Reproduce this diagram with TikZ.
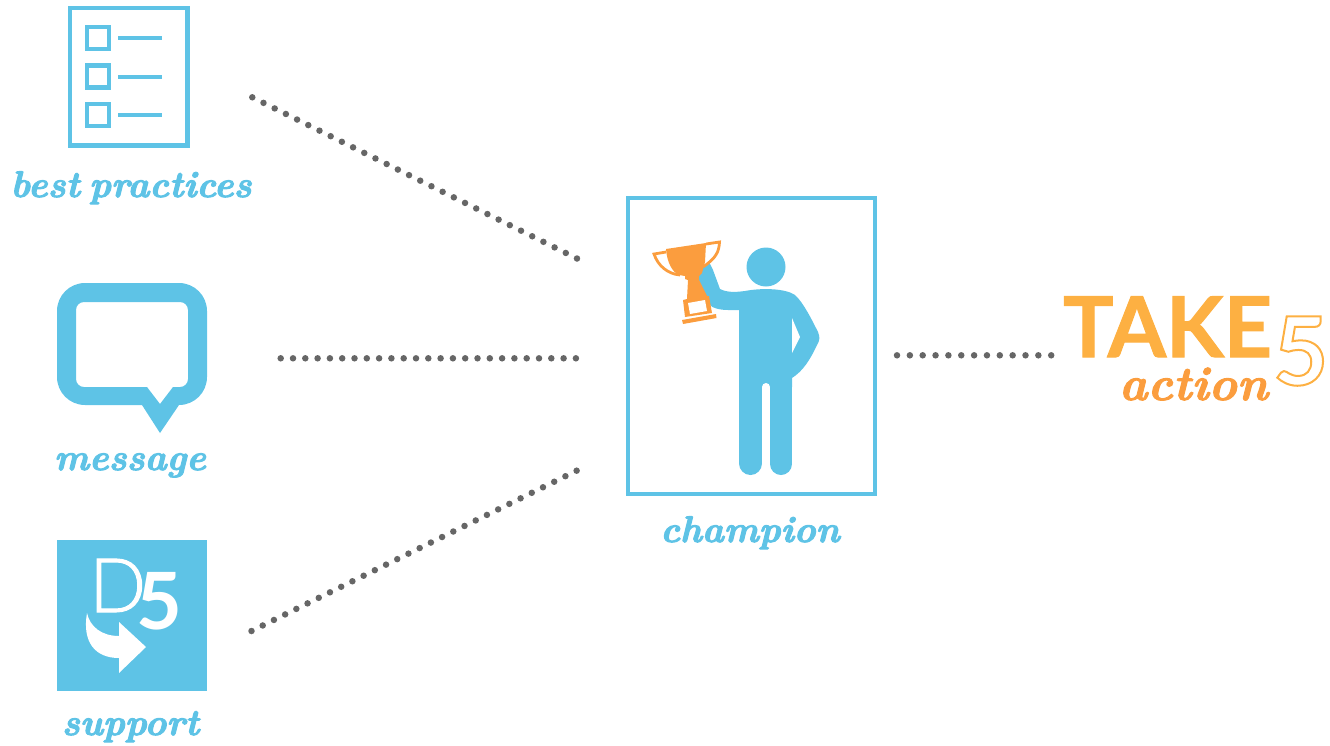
\documentclass[tikz,border=0pt]{standalone}
\usepackage{fontspec}
\newfontfamily\logofont{Lato}
\newfontfamily\logolight{Lato Light}
\definecolor{skyblue}{HTML}{5EC3E6}
\definecolor{cuporange}{HTML}{FB9D3E}
\definecolor{takeorange}{HTML}{FDB042}
\definecolor{dotgray}{HTML}{666666}
\newcommand{\outlinetext}[1]{\special{pdf:code 1 Tr 2 w}#1\special{pdf:code 0 Tr}}
\newcommand{\thickentext}[1]{\special{pdf:code 2 Tr 1 w}#1\special{pdf:code 0 Tr}}
\tikzset{
  dotline/.style={dotgray, line width=6.5pt, line cap=round, dash pattern=on 0pt off #1},
  lbl/.style={anchor=base, inner sep=0pt, text=skyblue, font=\fontsize{37}{37}\selectfont\bfseries\itshape},
  logotext/.style={anchor=base west, inner sep=0pt},
}

\begin{document}
\begin{tikzpicture}[x=1pt, y=-1pt]
  \useasboundingbox (0,0) rectangle (1330,745);

  % dotted connectors
  \coordinate (P1) at (252.3,97.3);
  \coordinate (P2) at (280.7,358.3);
  \coordinate (P3) at (251.5,631);
  \coordinate (C1) at (578,259);
  \coordinate (C2) at (576,358.3);
  \coordinate (C3) at (578,470);
  \coordinate (C4) at (897,355.3);
  \coordinate (T) at (1051.5,355.3);
  \draw[dotline=12.5pt] (P1)--(C1);
  \draw[dotline=12.3pt] (P2)--(C2);
  \draw[dotline=12.5pt] (P3)--(C3);
  \draw[dotline=12.85pt] (C4)--(T);

  % checklist
  \draw[skyblue, line width=4.5pt] (70,8) rectangle (187.5,145.5);
  \foreach \y in {38,76.5,115} {
    \draw[skyblue, line width=4.5pt] (87.2,\y-11) rectangle (109,\y+11);
    \draw[skyblue, line width=4pt] (118,\y)--(162,\y);
  }
  \node[lbl] (practices) at (131,197) {\thickentext{best\hspace{0.25em}practices}};

  % speech bubble
  \fill[skyblue, even odd rule]
    [rounded corners=28pt] (57,283) -- (207,283) -- (207,405)
    [sharp corners] -- (179,405) -- (160,433) -- (142,405)
    [rounded corners=28pt] -- (57,405) -- cycle
    [rounded corners=8pt] (76,302) -- (188,302) -- (188,387)
    [sharp corners] -- (173,387) -- (160,404) -- (147,387)
    [rounded corners=8pt] -- (76,387) -- cycle;
  \node[lbl] (message) at (130,470) {\thickentext{message}};

  % support logo
  \fill[skyblue] (57,540) rectangle (207,691);
  \node[logotext, text=white, font=\fontsize{75}{75}\selectfont] (logo) at (89,612)
    {\logolight\thickentext{D}\hspace{-10pt}\raisebox{-17pt}{\fontsize{79}{79}\selectfont\logofont\bfseries 5}};
  \fill[white] (87,613) .. controls (90,627) and (102,636) .. (119,636)
    -- (119,622) -- (146,647) -- (119,673) -- (119,658)
    .. controls (95,658) and (82,642) .. (87,613);
  \node[lbl] (support) at (130.5,735) {\thickentext{support}};

  % champion
  \draw[skyblue, line width=4.5pt] (628,198) rectangle (875,494);
  \fill[skyblue] (766,267) circle (19.5);
  \fill[skyblue] (707,258) -- (713,270) -- (720,289)
    .. controls (728,293) and (737,292) .. (745,291)
    .. controls (760,288) and (785,288) .. (795,295)
    .. controls (803,302) and (812,320) .. (818,332)
    .. controls (820,337) and (820,340) .. (817,345)
    .. controls (810,360) and (803,371) .. (792,378)
    -- (792,387) -- (739,387)
    -- (739,310) -- (728,310) .. controls (720,310) and (712,308) .. (710,305)
    -- (695,272) -- cycle;
  \fill[white] (792,318) -- (800,337) -- (792,353) -- cycle;
  \draw[skyblue, line width=23pt, line cap=round] (750.5,375)--(750.5,463.5);
  \draw[skyblue, line width=22pt, line cap=round] (781,375)--(781,464);
  \fill[white] (766,387) circle (4);
  \node[lbl] (champ) at (750,542) {\thickentext{champion}};

  % trophy
  \draw[cuporange, line width=2.8pt, fill=white] (666,252) -- (654,254)
    .. controls (658,266) and (668,274) .. (680,275);
  \draw[cuporange, line width=2.8pt, fill=white] (706,244) -- (719.5,242)
    .. controls (719,252) and (716,258) .. (703,267);
  \fill[cuporange] (666,249) -- (706,243) -- (705,262) -- (702,273) -- (699,276)
    -- (699,280) -- (707,296) -- (709,296) -- (712,313) -- (685,317) -- (683,300) -- (687,299)
    -- (688,280) -- (685,279) -- (685,276) -- (679,275)
    .. controls (672,272) and (667,262) .. (666,249) -- cycle;
  \fill[white] (688,303) -- (705,300) -- (707,311) -- (690,314) -- cycle;
  \fill[cuporange] (682,320) -- (716,314) -- (716.5,318) -- (683,324) -- cycle;

  % take action
  \node[logotext, text=takeorange, font=\fontsize{84}{84}\selectfont\logofont\bfseries] (take) at (1063,357) {\thickentext{TAKE}};
  \node[logotext, text=takeorange, font=\fontsize{95}{95}\selectfont\logofont\bfseries] (five) at (1273,385) {\outlinetext{5}};
  \node[lbl, text=cuporange, font=\fontsize{48}{48}\selectfont\bfseries\itshape] (action) at (1193.5,400) {\thickentext{action}};
\end{tikzpicture}
\end{document}
